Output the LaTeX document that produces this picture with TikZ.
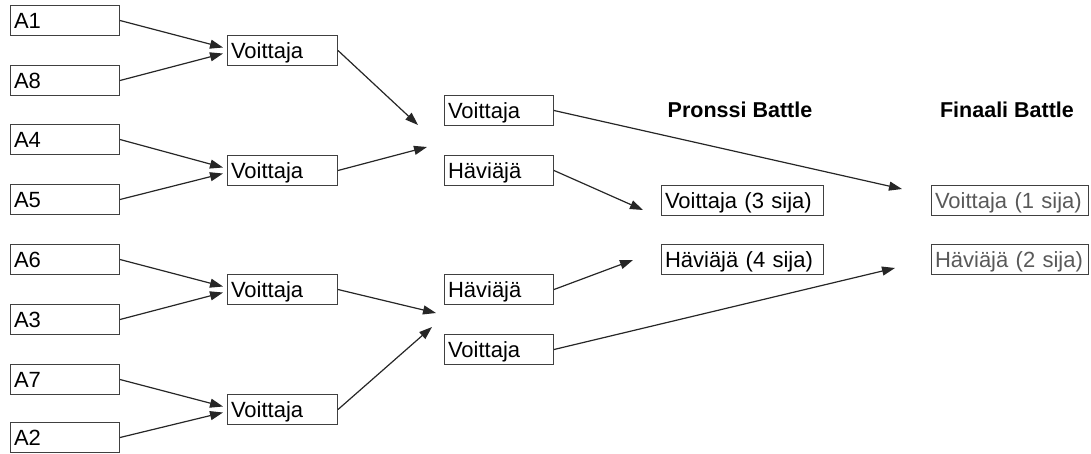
\documentclass[tikz,border=0pt]{standalone}
\usepackage{fontspec}
\setmainfont{Liberation Sans}
\usetikzlibrary{arrows.meta,calc}
\tikzset{
  box/.style={draw=black!75, line width=1pt, anchor=north west, inner xsep=3.5pt, inner ysep=0pt,
    minimum height=30pt, text height=23pt, text depth=7pt, align=left,
    font=\fontsize{22}{26}\selectfont},
  w109/.style={text width=102pt},
  w110/.style={text width=103pt},
  w162/.style={text width=155pt},
  w157/.style={text width=150pt},
  greytext/.style={text=black!65},
  conn/.style={line width=1.2pt, draw=black!85, -{Triangle[length=13pt,width=9pt]}},
  title/.style={font=\fontsize{21.5}{26}\selectfont\bfseries, anchor=center}
}
\begin{document}
\begin{tikzpicture}[x=1pt,y=-1pt]
\useasboundingbox (0,0) rectangle (1091,453);
% first column
\node[box,w109] (A1) at (10,5) {A1};
\node[box,w109] (A8) at (10,65) {A8};
\node[box,w109] (A4) at (10,124) {A4};
\node[box,w109] (A5) at (10,184) {A5};
\node[box,w109] (A6) at (10,244) {A6};
\node[box,w109] (A3) at (10,304) {A3};
\node[box,w109] (A7) at (10,364) {A7};
\node[box,w109] (A2) at (10,422) {A2};
% second column
\node[box,w110] (V1) at (227,35) {Voittaja};
\node[box,w110] (V2) at (227,155) {Voittaja};
\node[box,w110] (V3) at (227,274) {Voittaja};
\node[box,w110] (V4) at (227,394) {Voittaja};
% third column
\node[box,w109] (W1) at (444,95) {Voittaja};
\node[box,w109] (L1) at (444,155) {Häviäjä};
\node[box,w109] (L2) at (444,274) {Häviäjä};
\node[box,w109] (W2) at (444,334) {Voittaja};
% titles
\node[title] (tp) at (740,110) {Pronssi Battle};
\node[title] (tf) at (1007,110) {Finaali Battle};
% bronze
\node[box,w162] (P1) at (661,185) {Voittaja (3 sija)};
\node[box,w162] (P2) at (661,244) {Häviäjä (4 sija)};
% final
\node[box,w157,greytext] (F1) at (931,185) {Voittaja (1 sija)};
\node[box,w157,greytext] (F2) at (931,244) {Häviäjä (2 sija)};
% free arrow ends
\coordinate (c1) at (418,125);
\coordinate (c2) at (427,147);
\coordinate (c3) at (436,313);
\coordinate (c4) at (432,327);
\coordinate (d1) at (643,210);
\coordinate (d2) at (633,260);
\coordinate (e1) at (902,189);
\coordinate (e2) at (895,268);
% round 1
\draw[conn] (A1.east) -- ([xshift=-4pt,yshift=3pt]V1.west);
\draw[conn] (A8.east) -- ([xshift=-4pt,yshift=-3pt]V1.west);
\draw[conn] (A4.east) -- ([xshift=-4pt,yshift=3pt]V2.west);
\draw[conn] (A5.east) -- ([xshift=-4pt,yshift=-3pt]V2.west);
\draw[conn] (A6.east) -- ([xshift=-4pt,yshift=3pt]V3.west);
\draw[conn] (A3.east) -- ([xshift=-4pt,yshift=-3pt]V3.west);
\draw[conn] (A7.east) -- ([xshift=-4pt,yshift=3pt]V4.west);
\draw[conn] (A2.east) -- ([xshift=-4pt,yshift=-3pt]V4.west);
% round 2
\draw[conn] (V1.east) -- (c1);
\draw[conn] (V2.east) -- (c2);
\draw[conn] (V3.east) -- (c3);
\draw[conn] (V4.east) -- (c4);
% round 3
\draw[conn] (W1.east) -- (e1);
\draw[conn] (L1.east) -- (d1);
\draw[conn] (L2.east) -- (d2);
\draw[conn] (W2.east) -- (e2);
\end{tikzpicture}
\end{document}
